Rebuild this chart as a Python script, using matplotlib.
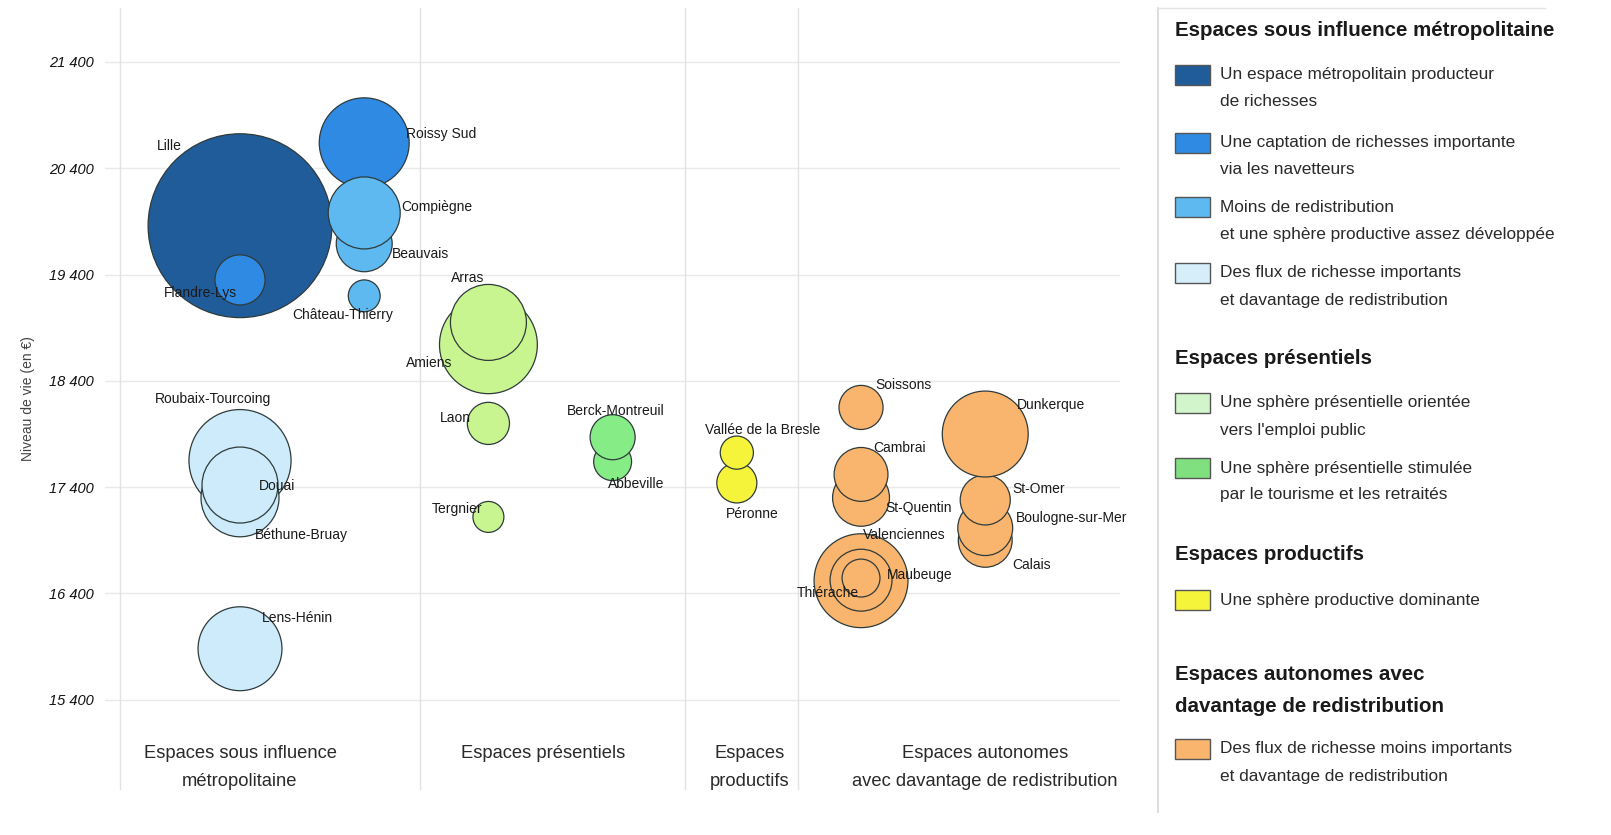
import numpy as np
import matplotlib
matplotlib.use("Agg")
import matplotlib.pyplot as plt
from matplotlib import font_manager
from matplotlib.patches import Rectangle
from matplotlib.transforms import blended_transform_factory

# ---------------- data (rows in drawing order) ----------------
zones = ["Lille", "Flandre-Lys", "Roubaix-Tourcoing", "Béthune-Bruay", "Douai", "Lens-Hénin",
         "Roissy Sud", "Beauvais", "Compiègne", "Château-Thierry",
         "Amiens", "Arras", "Laon", "Tergnier",
         "Abbeville", "Berck-Montreuil",
         "Péronne", "Vallée de la Bresle",
         "Soissons", "St-Quentin", "Cambrai", "Valenciennes", "Maubeuge", "Thiérache",
         "Calais", "Boulogne-sur-Mer", "St-Omer", "Dunkerque"]
colonne = [1, 1, 1, 1, 1, 1,
           2, 2, 2, 2,
           3, 3, 3, 3,
           4, 4,
           5, 5,
           6, 6, 6, 6, 6, 6,
           7, 7, 7, 7]
type_zone = [0, 1, 3, 3, 3, 3,
             1, 2, 2, 2,
             4, 4, 4, 4,
             5, 5,
             6, 6,
             7, 7, 7, 7, 7, 7,
             7, 7, 7, 7]
niveau_vie = [19860, 19350, 17650, 17300, 17420, 15880,
              20640, 19690, 19980, 19200,
              18740, 18950, 18000, 17120,
              17640, 17870,
              17440, 17725,
              18150, 17300, 17520, 16520, 16525, 16545,
              16900, 17015, 17280, 17900]
population = [1200, 89, 370, 216, 205, 250,
              287, 111, 184, 36,
              340, 205, 63, 34,
              51, 72,
              57, 39,
              69, 115, 103, 313, 136, 51,
              103, 107, 89, 262]

categories = ["Espaces sous influence\nmétropolitaine", "Espaces présentiels",
              "Espaces\nproductifs", "Espaces autonomes\navec davantage de redistribution"]
category_pos = [1.0, 3.44, 5.1, 7.0]
separators = [0.03, 2.45, 4.58, 5.49]
yticks = [15400, 16400, 17400, 18400, 19400, 20400, 21400]

type_labels = [
    "Un espace métropolitain producteur\nde richesses",
    "Une captation de richesses importante\nvia les navetteurs",
    "Moins de redistribution\net une sphère productive assez développée",
    "Des flux de richesse importants\net davantage de redistribution",
    "Une sphère présentielle orientée\nvers l'emploi public",
    "Une sphère présentielle stimulée\npar le tourisme et les retraités",
    "Une sphère productive dominante",
    "Des flux de richesse moins importants\net davantage de redistribution",
]
legend_groups = ["Espaces sous influence métropolitaine", "Espaces présentiels",
                 "Espaces productifs", "Espaces autonomes avec\ndavantage de redistribution"]
legend_group_types = [[0, 1, 2, 3], [4, 5], [6], [7]]

# ---------------- styles ----------------
bubble_colors = ['#1f5c99', '#2e8ae3', '#5db9f0', '#cdebfa', '#c9f590', '#86ec86', '#f6f43a', '#f9b46e']
swatch_colors = ['#1f5c99', '#2e8ae3', '#5db9f0', '#d6eefa', '#d3f5cc', '#80e080', '#f6f43a', '#f9b46e']

names = {f.name for f in font_manager.fontManager.ttflist}
if 'Liberation Sans Narrow' in names:
    NARROW, k = 'Liberation Sans Narrow', 1.0
else:
    NARROW, k = 'Liberation Sans', 0.84
SANS = 'Liberation Sans' if 'Liberation Sans' in names else 'DejaVu Sans'

# label offsets in pixels (ha, dx, dy downwards)
label_offsets = {
    "Lille": ('left', -83, -80), "Flandre-Lys": ('center', -40, 13),
    "Roubaix-Tourcoing": ('center', -27, -62), "Douai": ('left', 19, 1),
    "Béthune-Bruay": ('left', 15, 37), "Lens-Hénin": ('left', 22, -31),
    "Roissy Sud": ('left', 42, -9), "Compiègne": ('left', 37, -6),
    "Beauvais": ('left', 28, 10), "Château-Thierry": ('center', -22, 19),
    "Arras": ('center', -21, -44), "Amiens": ('right', -36, 18),
    "Laon": ('right', -18, -5), "Tergnier": ('right', -6, -8),
    "Berck-Montreuil": ('center', 3, -26), "Abbeville": ('left', -5, 22),
    "Vallée de la Bresle": ('center', 26, -23), "Péronne": ('center', 15, 31),
    "Soissons": ('left', 14, -22), "Cambrai": ('left', 12, -26),
    "St-Quentin": ('left', 24, 10), "Valenciennes": ('left', 2, -46),
    "Maubeuge": ('left', 26, -5), "Thiérache": ('right', -2, 15),
    "Dunkerque": ('left', 32, -29), "St-Omer": ('left', 27, -11),
    "Boulogne-sur-Mer": ('left', 31, -10), "Calais": ('left', 27, 25),
}

DPI = 100
fig = plt.figure(figsize=(16.11, 8.35), dpi=DPI)
W, H = 1611, 835
ax = fig.add_axes([105 / W, 1 - 790 / H, (1120 - 105) / W, (790 - 8) / H])
ax.set_xlim(-0.087, 8.085)
ax.set_ylim(14551, 21908)
for s in ax.spines.values():
    s.set_visible(False)
ax.set_xticks([])
ax.set_yticks(yticks)
ax.set_yticklabels([f"{v // 1000} {v % 1000:03d}" for v in yticks],
                   fontstyle='italic', fontsize=10.5, family=SANS, color='#111111')
ax.tick_params(axis='y', length=0, pad=8)
for v in yticks:
    ax.axhline(v, color='#e9e9e9', lw=1.0, zorder=0)
for xs in separators:
    ax.axvline(xs, color='#e2e2e2', lw=1.0, zorder=0)
ax.set_ylabel("Niveau de vie (en €)", family=SANS, fontsize=10, color='#444444', labelpad=10)

# bubbles, drawn in data order
SIZE_SCALE = 14.6
ax.scatter(colonne, niveau_vie, s=np.array(population) * SIZE_SCALE,
           c=[bubble_colors[t] for t in type_zone], edgecolors='#2f3b3b',
           linewidths=0.9, zorder=2)

for i, name in enumerate(zones):
    ha, dx, dy = label_offsets[name]
    ax.annotate(name, (colonne[i], niveau_vie[i]), xytext=(dx * 0.72, -dy * 0.72),
                textcoords='offset points', ha=ha, va='center', family=NARROW,
                fontsize=11.9 * k, color='#1a1a1a', zorder=100)

tr = blended_transform_factory(ax.transData, ax.transAxes)
line_y = [0.0473, 0.0115]
for lab, xp in zip(categories, category_pos):
    for li, line in enumerate(lab.split("\n")):
        ax.text(xp, line_y[li], line, transform=tr, ha='center', va='center',
                family=NARROW, fontsize=15.7 * k, color='#2a2a2a')

# ---------------- legend (pixel layout) ----------------
lg = fig.add_axes([0, 0, 1, 1], facecolor='none')
lg.set_xlim(0, W)
lg.set_ylim(H, 0)
lg.axis('off')
lg.plot([1158, 1158], [8, 812], color='#d8d8d8', lw=1.2)
lg.plot([1158, 1545], [8, 8], color='#e4e4e4', lw=1.0)

title_y = [30, 358, 555, 675]
item_y = [[75, 143, 207, 273], [403, 468], [600], [749]]
for gi, title in enumerate(legend_groups):
    for li, line in enumerate(title.split("\n")):
        lg.text(1175, title_y[gi] + li * 31, line, family=NARROW, fontweight='bold',
                fontsize=17.6 * k, color='#1a1a1a', va='center', ha='left')
    for t, yy in zip(legend_group_types[gi], item_y[gi]):
        lg.add_patch(Rectangle((1175, yy - 10), 35, 20, facecolor=swatch_colors[t],
                               edgecolor='#555555', lw=1.0))
        for li, line in enumerate(type_labels[t].split("\n")):
            lg.text(1220, yy + li * 27, line, family=NARROW, fontsize=14.8 * k,
                    color='#2a2a2a', va='center', ha='left')

fig.savefig("out.png", dpi=DPI, facecolor='white')
